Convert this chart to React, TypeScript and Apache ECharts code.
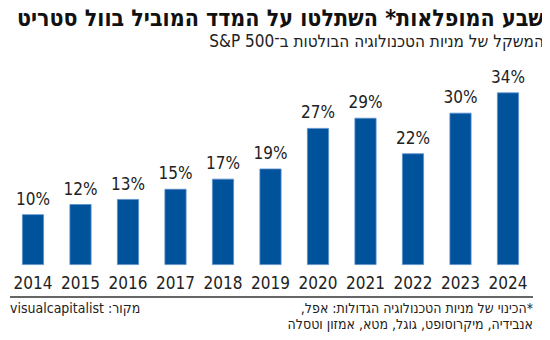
import React, { useEffect, useRef } from "react";
import * as echarts from "echarts";

const years = ["2014", "2015", "2016", "2017", "2018", "2019", "2020", "2021", "2022", "2023", "2024"];
const techWeight = [10, 12, 13, 15, 17, 19, 27, 29, 22, 30, 34];

const RLE = "\u202B";
const PDF = "\u202C";
const titleText = "שבע המופלאות* השתלטו על המדד המוביל בוול סטריט";
const subtitleText = "המשקל של מניות הטכנולוגיה הבולטות ב־S&P 500";
const noteLine1 = "*הכינוי של מניות הטכנולוגיה הגדולות: אפל,";
const noteLine2 = "אנבידיה, מיקרוסופט, גוגל, מטא, אמזון וטסלה";
const sourceText = "מקור: visualcapitalist";

const COND = "'DejaVu Sans Condensed', 'Liberation Sans Narrow', 'Liberation Sans', sans-serif";

export default function App() {
  const ref = useRef<HTMLDivElement>(null);
  useEffect(() => {
    if (!ref.current) return;
    const chart = echarts.init(ref.current, undefined, { renderer: "svg" });
    chart.setOption({
      animation: false,
      backgroundColor: "#ffffff",
      grid: { left: 9.25, right: 18.25, top: 62, bottom: 75, containLabel: false },
      xAxis: {
        type: "category",
        data: years,
        axisLine: { show: false },
        axisTick: { show: false },
        axisLabel: { color: "#222", fontSize: 17, fontFamily: COND, margin: 9, interval: 0 },
      },
      yAxis: {
        type: "value",
        min: 0,
        max: 40,
        show: false,
        splitLine: { show: false },
      },
      series: [
        {
          type: "bar",
          data: techWeight,
          barWidth: 22,
          itemStyle: { color: "#00529b", borderColor: "#5a8fcc", borderWidth: 0.8 },
          label: {
            show: true,
            position: "top",
            distance: 7,
            formatter: "{c}%",
            color: "#222",
            fontSize: 17,
            fontFamily: COND,
          },
        },
      ],
      graphic: [
        {
          type: "text",
          right: 6,
          top: 6,
          style: {
            text: titleText,
            font: "bold 23px " + COND,
            fill: "#111",
            textAlign: "right",
          },
        },
        {
          type: "text",
          right: 6,
          top: 32,
          style: {
            text: RLE + subtitleText + PDF,
            font: "17px " + COND,
            fill: "#222",
            textAlign: "right",
          },
        },
        {
          type: "line",
          shape: { x1: 10, y1: 297, x2: 533, y2: 297 },
          style: { stroke: "#333", lineWidth: 1.5 },
        },
        {
          type: "text",
          right: 17,
          top: 301,
          style: {
            text: RLE + noteLine1 + PDF,
            font: "14px " + COND,
            fill: "#222",
            textAlign: "right",
          },
        },
        {
          type: "text",
          right: 17,
          top: 317,
          style: {
            text: RLE + noteLine2 + PDF,
            font: "14px " + COND,
            fill: "#222",
            textAlign: "right",
          },
        },
        {
          type: "text",
          left: 10,
          top: 301,
          style: {
            text: RLE + sourceText + PDF,
            font: "14px " + COND,
            fill: "#222",
            textAlign: "left",
          },
        },
      ],
    });
    return () => chart.dispose();
  }, []);
  return <div ref={ref} style={{ width: 550, height: 340, margin: -8 }} />;
}
